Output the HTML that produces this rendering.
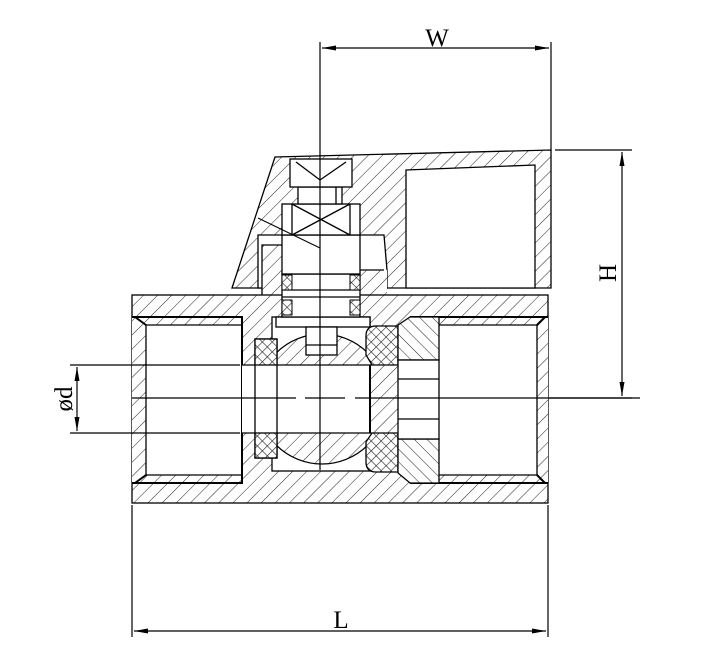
<!DOCTYPE html>
<html><head><meta charset="utf-8"><style>html,body{margin:0;padding:0;background:#fff}svg{display:block}</style></head><body>
<svg width="724" height="650" viewBox="0 0 724 650" xmlns="http://www.w3.org/2000/svg">
<defs>
<pattern id="h" patternUnits="userSpaceOnUse" width="10" height="10" patternTransform="rotate(45)"><rect width="10" height="10" fill="#fff"/><line x1="0" y1="0" x2="0" y2="10" stroke="#222" stroke-width="1"/></pattern>
<pattern id="h2" patternUnits="userSpaceOnUse" width="9" height="9" patternTransform="rotate(-45)"><rect width="9" height="9" fill="#fff"/><line x1="0" y1="0" x2="0" y2="9" stroke="#222" stroke-width="1"/></pattern>
<pattern id="x" patternUnits="userSpaceOnUse" width="7" height="7" patternTransform="rotate(45)"><rect width="7" height="7" fill="#fff"/><line x1="0" y1="0" x2="0" y2="7" stroke="#222" stroke-width="1.2"/><line x1="0" y1="0" x2="7" y2="0" stroke="#222" stroke-width="1.2"/></pattern>
<marker id="a" markerWidth="14" markerHeight="8" refX="14" refY="4" orient="auto-start-reverse" markerUnits="userSpaceOnUse"><path d="M0,1.5 L14,4 L0,6.5 Z" fill="#000"/></marker>
</defs>
<g stroke="#000" stroke-width="1.3" fill="none">
<polygon points="275,157 551,150 551,288 232,288" fill="url(#h)"/>
<polygon points="406,170 535,165 535,288 406,288" fill="#fff"/>
<polygon points="258,235 384,235 387,270 387,288 258,288" fill="#fff"/>
<polygon points="262,245 282,245 282,295 262,295" fill="url(#h)" stroke="none"/>
<polygon points="360,270 387,270 387,295 360,295" fill="url(#h)" stroke="none"/>
<rect x="132" y="295" width="416" height="208" fill="url(#h)"/>
<path d="M262,295 V245 H282 M360,270 H384" />
<rect x="132" y="317" width="110" height="166" fill="url(#h)" stroke="none"/>
<polygon points="146,325 242,325 242,475 146,475" fill="#fff"/>
<path d="M132,317 H242 V483 H132 M135,317 L146,325 M135,483 L146,475" stroke-width="2"/>
<rect x="410" y="317" width="138" height="166" fill="url(#h)" stroke="none"/>
<polygon points="438,325 537,325 537,475 438,475" fill="#fff"/>
<path d="M548,317 H410 M548,483 H410 M537,325 L545,317 M537,475 L545,483" stroke-width="2"/>
<rect x="272" y="317" width="98" height="154" fill="#fff"/>
<rect x="242" y="365" width="35" height="68" fill="#fff" stroke="none"/>
<path d="M242,365 H255 M242,433 H255"/>
<clipPath id="bc"><rect x="272" y="330" width="100" height="35"/><rect x="272" y="433" width="100" height="40"/></clipPath>
<circle cx="322" cy="399" r="65" fill="url(#h)" clip-path="url(#bc)"/>
<path d="M272,365 H372 M272,433 H372"/>
<line x1="274" y1="365" x2="274" y2="433" stroke-width="2"/>
<line x1="370" y1="365" x2="370" y2="433" stroke-width="2"/>
<rect x="255" y="339" width="22" height="119" fill="#fff"/>
<rect x="255" y="339" width="22" height="26" fill="url(#x)"/>
<rect x="255" y="433" width="22" height="25" fill="url(#x)"/>
<path d="M366,336 Q366,326 376,326 H398 V365 H372 L366,355 Z" fill="url(#x)"/>
<path d="M366,442 L372,433 H398 V472 H376 Q366,472 366,462 Z" fill="url(#x)"/>
<polygon points="398,325 410,317 439,317 439,360 398,360" fill="url(#h2)"/>
<polygon points="398,439 439,439 439,483 410,483 398,473" fill="url(#h2)"/>
<rect x="398" y="360" width="41" height="79" fill="#fff"/>
<path d="M398,379 H439 M398,419 H439"/>
<rect x="276" y="317" width="94" height="10" fill="#fff"/>
<rect x="306" y="327" width="31" height="28" fill="#fff"/>
<path d="M306,345 H337"/>
<rect x="282" y="274" width="78" height="43" fill="#fff"/>
<path d="M282,290 H360 M282,297 H360"/>
<rect x="282" y="275" width="10" height="15" fill="url(#x)" stroke-width="1"/>
<rect x="350" y="275" width="10" height="15" fill="url(#x)" stroke-width="1"/>
<rect x="282" y="300" width="10" height="15" fill="url(#x)" stroke-width="1"/>
<rect x="350" y="300" width="10" height="15" fill="url(#x)" stroke-width="1"/>
<rect x="282" y="235" width="78" height="39" fill="#fff"/>
<rect x="282" y="204" width="78" height="31" fill="#fff"/>
<path d="M292,204 V235 M350,204 V235 M292,204 L350,235 M350,204 L292,235"/>
<line x1="258" y1="218" x2="320" y2="248" stroke-width="1"/>
<rect x="298" y="187" width="44" height="17" fill="#fff"/>
<path d="M336,187 V204"/>
<rect x="290" y="159" width="62" height="28" fill="#fff"/>
<path d="M296,162 L320,180 L346,162"/>
<line x1="320" y1="42" x2="320" y2="470" stroke-width="1.2"/>
<path d="M132,398 H296 M305,398 H345 M355,398 H640" stroke-width="1.2"/>
<path d="M551,42 V150 M555,150 H632 M549,398 H632 M132,505 V637 M548,505 V637 M70,365 H240 M70,433 H240" stroke-width="1.2"/>
<line x1="322" y1="48" x2="549" y2="48" marker-start="url(#a)" marker-end="url(#a)" stroke-width="1.2"/>
<line x1="622" y1="152" x2="622" y2="396" marker-start="url(#a)" marker-end="url(#a)" stroke-width="1.2"/>
<line x1="134" y1="631" x2="546" y2="631" marker-start="url(#a)" marker-end="url(#a)" stroke-width="1.2"/>
<line x1="77" y1="367" x2="77" y2="431" marker-start="url(#a)" marker-end="url(#a)" stroke-width="1.2"/>
</g>
<g font-family="Liberation Serif, serif" font-size="25" fill="#000" text-anchor="middle">
<text x="437" y="46">W</text>
<text x="341" y="628">L</text>
<text transform="translate(616,273) rotate(-90)">H</text>
<text transform="translate(72,399) rotate(-90)">ød</text>
</g>
</svg>
</body></html>
